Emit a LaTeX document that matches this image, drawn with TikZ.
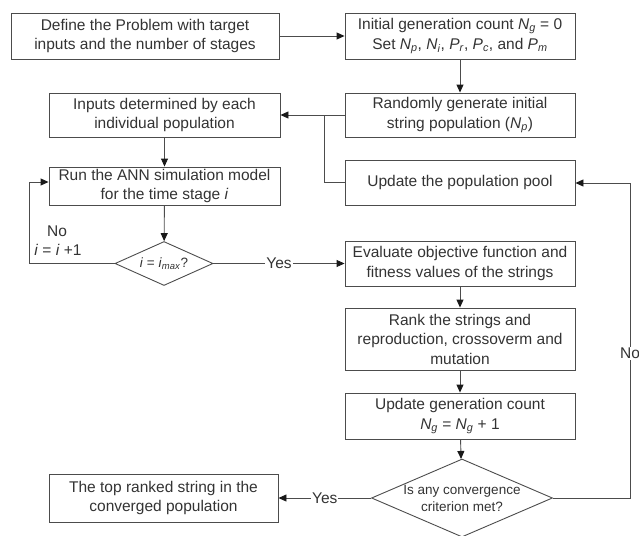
\documentclass[tikz,border=0pt]{standalone}
\usepackage{fontspec}
\setmainfont{Liberation Sans}
\usetikzlibrary{shapes.geometric,arrows.meta}
\newcommand{\vsub}[2]{\textit{#1}\textsubscript{\textit{#2}}}
\begin{document}
\begin{tikzpicture}[x=1pt,y=-1pt,
  every node/.style={font=\fontsize{15.5}{19.5}\selectfont, text=black!80},
  box/.style={draw=black!70, line width=0.9pt, rectangle, align=center, inner sep=0pt, minimum width=230pt},
  dec/.style={draw=black!70, line width=0.9pt, diamond, inner sep=0pt},
  conn/.style={draw=black!70, line width=0.9pt},
  arr/.style={conn, -{Triangle[length=8pt,width=7pt,color=black!90]}},
  lab/.style={fill=white, inner sep=1pt},
  small/.style={font=\fontsize{13.5}{17}\selectfont}]
\useasboundingbox (0,0) rectangle (639,535);
\node[box, minimum width=268pt, minimum height=46pt] (b1) at (145,36) {Define the Problem with target\\inputs and the number of stages};
\node[box, minimum height=46pt] (b2) at (460,36) {Initial generation count \vsub{N}{g} = 0\\Set \vsub{N}{p}, \vsub{N}{i}, \vsub{P}{r}, \vsub{P}{c}, and \vsub{P}{m}};
\node[box, minimum width=231pt, minimum height=44pt] (b3) at (164.5,115) {Inputs determined by each\\individual population};
\node[box, minimum height=44pt] (b4) at (460,115) {Randomly generate initial\\string population (\vsub{N}{p})};
\node[box, minimum width=231pt, minimum height=38pt] (b5) at (164.5,186) {Run the ANN simulation model\\for the time stage \textit{i}};
\node[box, minimum height=45pt] (b6) at (460,182.5) {Update the population pool};
\node[dec, minimum width=98pt, minimum height=44pt, label={[small]center:\textit{i} = \vsub{i}{max}?}] (d1) at (164,263.5) {};
\node[box, minimum height=45pt] (b7) at (460,263.5) {Evaluate objective function and\\fitness values of the strings};
\node[box, minimum height=62pt] (b8) at (460,339) {Rank the strings and\\reproduction, crossoverm and\\mutation};
\node[box, minimum height=46pt] (b9) at (460,416) {Update generation count\\\vsub{N}{g} = \vsub{N}{g} + 1};
\node[dec, minimum width=181pt, minimum height=78pt, label={[small, align=center]center:Is any convergence\\criterion met?}] (d2) at (462,498) {};
\node[box, minimum width=229pt, minimum height=48pt] (b10) at (163.5,498) {The top ranked string in the\\converged population};
\coordinate (j) at (324,115);
\coordinate (l1) at (29,263.5);
\coordinate (l2) at (29,182);
\coordinate (r1) at (630,498);
\coordinate (r2) at (630,183);
\draw[arr] (b1) -- (b2);
\draw[arr] (b2) -- (b4);
\draw[arr] (b4.west) -- (b3.east);
\draw[conn] (b6.west) -| (j);
\draw[arr] (b3) -- (b5);
\draw[arr] (b5) -- (d1);
\draw[arr] (d1.west) -- (l1) -- (l2) -- (b5.west |- l2);
\node (nol) at (57,231) {No};
\node (inc) at (58,250) {\textit{i} = \textit{i} +1};
\draw[arr] (d1.east) -- node[lab]{Yes} (b7.west);
\draw[arr] (b7) -- (b8);
\draw[arr] (b8) -- (b9);
\draw[arr] (b9) -- (d2);
\draw[arr] (d2.west) -- node[lab]{Yes} (b10.east);
\draw[arr] (d2.east) -- (r1) -- node[lab, pos=0.46]{No} (r2) -- (b6.east |- r2);
\end{tikzpicture}
\end{document}
